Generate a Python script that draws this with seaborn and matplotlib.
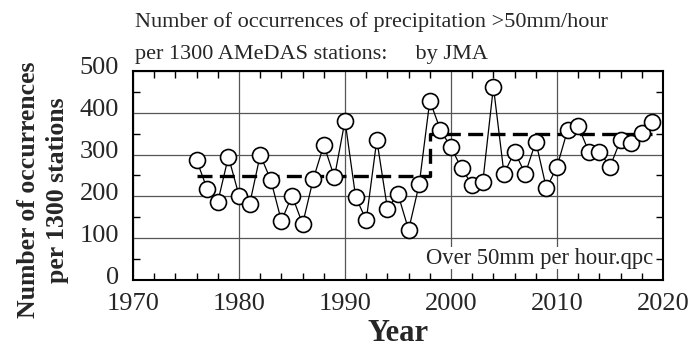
import matplotlib
matplotlib.use("Agg")
import matplotlib.pyplot as plt
import matplotlib.transforms as mtransforms
import seaborn as sns
import pandas as pd
from matplotlib.ticker import MultipleLocator

years = list(range(1976, 2020))
counts = [287, 217, 187, 295, 202, 181, 299, 239, 141, 202,
          134, 241, 323, 246, 381, 199, 143, 335, 171, 205,
          120, 229, 429, 359, 317, 267, 227, 235, 462, 254,
          307, 254, 331, 219, 271, 359, 368, 307, 307, 271,
          335, 327, 351, 379]

# period means shown as a dashed step line
period_years = [1976, 1998, 1998, 2019]
period_means = [248, 248, 349, 349]

title_lines = ["Number of occurrences of precipitation >50mm/hour",
               "per 1300 AMeDAS stations:     by JMA"]
note = "Over 50mm per hour.qpc"

df = pd.DataFrame({"year": years, "count": counts})
mean_df = pd.DataFrame({"year": period_years, "count": period_means})

sns.set_style("ticks")
plt.rcParams["font.family"] = ["Liberation Serif", "DejaVu Serif"]

fig = plt.figure(figsize=(6.91, 3.49), dpi=100)
ax = fig.add_axes([0.1925, 0.1977, 0.767, 0.599])

sns.lineplot(data=mean_df, x="year", y="count", ax=ax, color="black",
             linewidth=2.4, estimator=None, sort=False, zorder=2)
ax.lines[-1].set_dashes([4.5, 2.2])

sns.lineplot(data=df, x="year", y="count", ax=ax, color="black",
             linewidth=0.9, marker="o", markersize=11.5,
             markerfacecolor="white", markeredgecolor="black",
             markeredgewidth=1.2, estimator=None, zorder=3)

ax.set_xlim(1970, 2020)
ax.set_ylim(0, 500)
ax.xaxis.set_major_locator(MultipleLocator(10))
ax.xaxis.set_minor_locator(MultipleLocator(2))
ax.yaxis.set_major_locator(MultipleLocator(100))
ax.yaxis.set_minor_locator(MultipleLocator(50))
ax.grid(True, which="major", color="#555555", linewidth=0.9, zorder=0)
ax.tick_params(which="both", direction="in", top=True, right=True,
               width=1.0, color="black")
ax.tick_params(which="major", length=0, labelsize=19)
ax.tick_params(axis="x", which="major", pad=9)
ax.tick_params(axis="y", which="major", pad=10)
ax.tick_params(which="minor", length=5)
for s in ax.spines.values():
    s.set_linewidth(1.5)
    s.set_color("black")

# nudge the y tick labels slightly upward
shift = mtransforms.ScaledTranslation(0, 5 / 100, fig.dpi_scale_trans)
for lbl in ax.get_yticklabels():
    lbl.set_transform(lbl.get_transform() + shift)

ax.set_xlabel("Year", fontsize=22, fontweight="bold", labelpad=3)
ax.set_ylabel("Number of occurrences\nper 1300 stations", fontsize=18.5,
              fontweight="bold", linespacing=1.35)
ax.yaxis.set_label_coords(-0.12, 0.43)

ax.text(0.982, 0.105, note, transform=ax.transAxes, ha="right", va="center",
        fontsize=16.3, zorder=4,
        bbox=dict(facecolor="white", edgecolor="none", pad=0.3))

fig.text(0.195, 0.937, title_lines[0], fontsize=16, ha="left", va="center")
fig.text(0.195, 0.843, title_lines[1], fontsize=16, ha="left", va="center")

fig.savefig("out.png", dpi=100)
